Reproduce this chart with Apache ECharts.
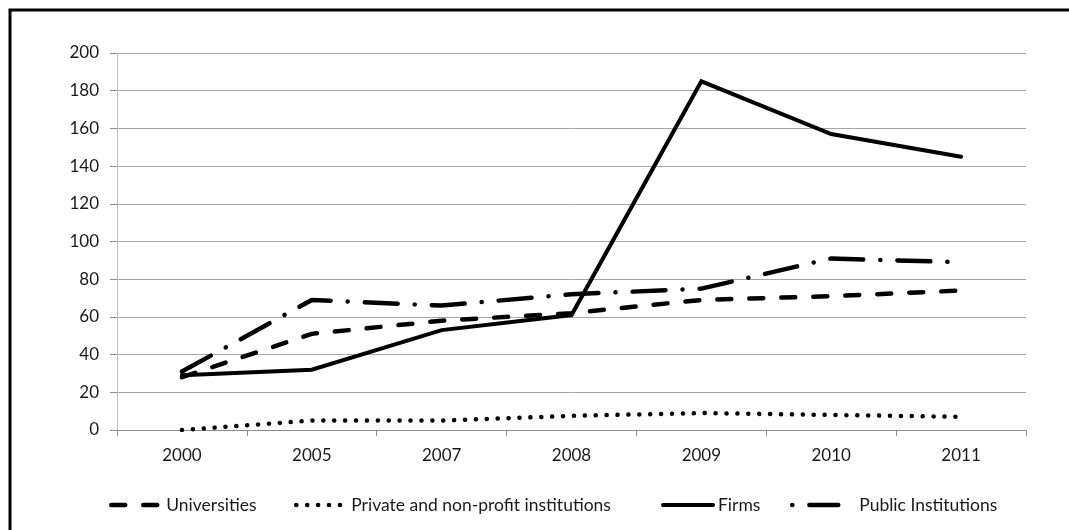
<!DOCTYPE html>
<html>
<head>
<meta charset="utf-8">
<script src="https://cdn.jsdelivr.net/npm/echarts@6/dist/echarts.min.js"></script>
<style>html,body{margin:0;padding:0;background:#fff}#c{width:1069px;height:530px}</style>
</head>
<body>
<div id="c"></div>
<script>
const categories = ['2000','2005','2007','2008','2009','2010','2011'];
const universities = [28, 51, 58, 62, 69, 71, 74];
const privateNonProfit = [0, 5, 5, 7.5, 9, 8, 7];
const firms = [29, 32, 53, 61, 185, 157, 145];
const publicInst = [31, 69, 66, 72, 75, 91, 89];
const seriesNames = ['Universities', 'Private and non-profit institutions', 'Firms', 'Public Institutions'];

const FONT = 'Lato';
const styles = [
  {width: 4.5, type: [14, 18], offset: 0},
  {width: 4.5, type: [0.1, 10.8], offset: 0},
  {width: 4, type: 'solid', offset: 0},
  {width: 4.5, type: [33, 17, 0.1, 17], offset: 46}
];
const chart = echarts.init(document.getElementById('c'));
function mkLegend(i, left, padLeft) {
  return {
    top: 491, left: left, itemWidth: 50, itemHeight: 8, itemGap: 0,
    data: [seriesNames[i]],
    itemStyle: {opacity: 0},
    lineStyle: {color: '#000', width: styles[i].width, type: styles[i].type, dashOffset: styles[i].offset, cap: 'round'},
    textStyle: {fontFamily: FONT, fontSize: 17.5, color: '#1a1a1a', padding: [0, 0, 0, padLeft || 0]}
  };
}
chart.setOption({
  animation: false,
  backgroundColor: '#fff',
  graphic: [{
    type: 'rect', shape: {x: 10, y: 10, width: 1100, height: 600},
    style: {fill: 'none', stroke: '#000', lineWidth: 3}, silent: true
  }],
  grid: {left: 117, right: 43, top: 53, bottom: 100},
  legend: [mkLegend(0, 104), mkLegend(1, 289), mkLegend(2, 656), mkLegend(3, 781, 16)],
  xAxis: {
    type: 'category', data: categories, boundaryGap: true,
    axisLine: {lineStyle: {color: '#8c8c8c', width: 1}},
    axisTick: {show: true, length: 6, interval: 0, lineStyle: {color: '#8c8c8c'}},
    axisLabel: {fontFamily: FONT, fontSize: 17, color: '#1a1a1a', margin: 17}
  },
  yAxis: {
    type: 'value', min: 0, max: 200, interval: 20,
    axisLine: {show: true, lineStyle: {color: '#bfbfbf', width: 1}},
    axisTick: {show: true, length: 7, lineStyle: {color: '#8c8c8c'}},
    splitLine: {lineStyle: {color: '#a6a6a6', width: 1}},
    axisLabel: {fontFamily: FONT, fontSize: 17, color: '#1a1a1a', margin: 18}
  },
  series: [
    {name: seriesNames[0], type: 'line', data: universities, symbol: 'none',
     lineStyle: {color: '#000', width: styles[0].width, type: styles[0].type, cap: 'round', join: 'round'}, itemStyle: {color: '#000'}},
    {name: seriesNames[1], type: 'line', data: privateNonProfit, symbol: 'none',
     lineStyle: {color: '#000', width: styles[1].width, type: styles[1].type, cap: 'round', join: 'round'}, itemStyle: {color: '#000'}},
    {name: seriesNames[2], type: 'line', data: firms, symbol: 'none',
     lineStyle: {color: '#000', width: styles[2].width, cap: 'round', join: 'miter'}, itemStyle: {color: '#000'}},
    {name: seriesNames[3], type: 'line', data: publicInst, symbol: 'none',
     lineStyle: {color: '#000', width: styles[3].width, type: styles[3].type, cap: 'round', join: 'round'}, itemStyle: {color: '#000'}}
  ]
});
</script>
</body>
</html>
